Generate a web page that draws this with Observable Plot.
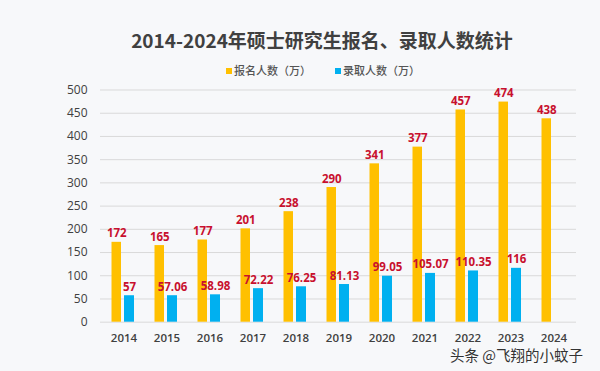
<!DOCTYPE html>
<html>
<head>
<meta charset="utf-8">
<script src="https://cdn.jsdelivr.net/npm/d3@7"></script>
<script src="https://cdn.jsdelivr.net/npm/@observablehq/plot@0.6"></script>
<style>
  html, body { margin: 0; padding: 0; }
  body { width: 600px; height: 371px; overflow: hidden; background: #f7f8fa; }
  #wrap { position: relative; width: 600px; height: 371px; background: #f7f8fa; }
  #title { position: absolute; left: 0; width: 644px; top: 27px; text-align: center;
    font-family: "Noto Sans CJK SC", sans-serif; font-weight: bold; font-size: 19px; color: #404040; line-height: 26px; }
  #legend { position: absolute; left: 0; width: 646px; top: 61px; text-align: center;
    font-family: "Noto Sans CJK SC", sans-serif; font-size: 11px; color: #555; line-height: 18px; font-weight: 500; }
  #legend span.sw { display: inline-block; width: 6px; height: 6px; margin-right: 2px; vertical-align: 1px; }
  #legend span.item { margin: 0 12px; }
  #chart { position: absolute; left: 0; top: 80px; }
  #mark { position: absolute; left: 450px; top: 348px; font-family: "Noto Sans CJK SC", sans-serif;
    font-size: 14.5px; line-height: 13px; color: #333; text-shadow: 0 0 2px #fff; }
</style>
</head>
<body>
<div id="wrap">
  <div id="title">2014-2024年硕士研究生报名、录取人数统计</div>
  <div id="legend"></div>
  <div id="chart"></div>
  <div id="mark">头条 @飞翔的小蚊子</div>
</div>
<script>
const years = ["2014","2015","2016","2017","2018","2019","2020","2021","2022","2023","2024"];
const applicants = [172,165,177,201,238,290,341,377,457,474,438];
const admitted = [57,57.06,58.98,72.22,76.25,81.13,99.05,105.07,110.35,116,null];
const seriesNames = ["报名人数（万）","录取人数（万）"];
const seriesColors = ["#FFC000","#00B0F0"];
const yTicks = [0,50,100,150,200,250,300,350,400,450,500];

const applyData = years.map((y,i) => ({year: y, value: applicants[i]}));
const admitData = years.map((y,i) => ({year: y, value: admitted[i]})).filter(d => d.value != null);

document.getElementById("legend").innerHTML = seriesNames.map((n,i) =>
  `<span class="item"><span class="sw" style="background:${seriesColors[i]}"></span>${n}</span>`).join("");

const plot = Plot.plot({
  width: 600,
  height: 291,
  marginLeft: 100,
  marginRight: 24,
  marginTop: 9.5,
  marginBottom: 49.3,
  style: {background: "transparent", fontFamily: "Open Sans, sans-serif"},
  x: {domain: years, padding: 0, label: null, tickSize: 0, tickPadding: 12},
  y: {domain: [0, 500], ticks: yTicks, label: null, tickSize: 0, tickPadding: 13},
  marks: [
    Plot.ruleY(yTicks, {stroke: "#d9d9d9", strokeWidth: 1}),
    Plot.barY(applyData, {x: "year", y: "value", fill: seriesColors[0], insetLeft: 9.5, insetRight: 24}),
    Plot.barY(admitData, {x: "year", y: "value", fill: seriesColors[1], insetLeft: 22, insetRight: 11}),
    Plot.text(applyData, {x: "year", y: "value", text: d => String(d.value), dx: -7.2, dy: -5, lineAnchor: "bottom",
      fill: "#c8102e", fontWeight: "bold", fontSize: 11.5}),
    Plot.text(admitData, {x: "year", y: "value", text: d => String(d.value), dx: 5.5, dy: -5, lineAnchor: "bottom",
      fill: "#c8102e", fontWeight: "bold", fontSize: 11.5}),
    Plot.axisY({ticks: yTicks, tickSize: 0, tickPadding: 13, fontSize: 12, fill: "#404040", label: null}),
    Plot.axisX({tickSize: 0, tickPadding: 12, fontSize: 11.5, fill: "#404040", fontWeight: 600, label: null})
  ]
});
document.getElementById("chart").appendChild(plot);
</script>
</body>
</html>
